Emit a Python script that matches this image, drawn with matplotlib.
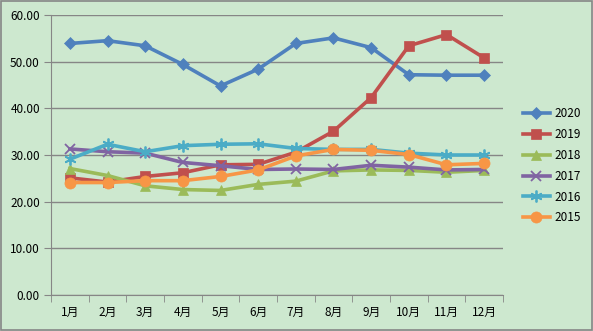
import matplotlib.pyplot as plt
from matplotlib.patches import Rectangle

plt.rcParams['font.family'] = ['Noto Sans CJK SC', 'DejaVu Sans']

months = ['1月', '2月', '3月', '4月', '5月', '6月', '7月', '8月', '9月', '10月', '11月', '12月']
years = ['2020', '2019', '2018', '2017', '2016', '2015']

v2020 = [53.9, 54.5, 53.4, 49.4, 44.8, 48.4, 53.9, 55.1, 53.0, 47.2, 47.1, 47.1]
v2019 = [25.1, 24.2, 25.4, 26.2, 27.9, 28.0, 30.6, 35.1, 42.3, 53.4, 55.8, 50.8]
v2018 = [27.1, 25.6, 23.4, 22.6, 22.4, 23.7, 24.4, 26.6, 26.8, 26.7, 26.3, 26.7]
v2017 = [31.3, 30.7, 30.4, 28.4, 27.7, 26.9, 27.0, 26.9, 27.8, 27.4, 26.8, 26.9]
v2016 = [29.1, 32.3, 30.7, 32.0, 32.3, 32.4, 31.4, 31.2, 31.2, 30.4, 30.0, 30.0]
v2015 = [24.1, 24.1, 24.5, 24.5, 25.4, 26.8, 29.8, 31.2, 31.0, 30.1, 27.9, 28.2]

series = [v2020, v2019, v2018, v2017, v2016, v2015]
colors = ['#4F81BD', '#C0504D', '#9BBB59', '#8064A2', '#4BACC6', '#F79646']
markers = ['D', 's', '^', 'x', (6, 2, 0), 'o']
msizes = [6, 7.5, 7.5, 7.5, 8.5, 8]

bg = '#CDE8CF'
fig = plt.figure(figsize=(5.93, 3.31), dpi=100, facecolor=bg)
ax = fig.add_axes([51 / 593, 36 / 331, 452 / 593, 280 / 331])
ax.set_facecolor(bg)

x = list(range(len(months)))
for name, vals, c, m, ms in zip(years, series, colors, markers, msizes):
    ax.plot(x, vals, color=c, lw=2.6, marker=m, markersize=ms,
            markeredgewidth=1.3 if m in ('x', (6, 2, 0)) else 0.5,
            markeredgecolor=c, markerfacecolor=c, label=name)

ax.set_xlim(-0.5, 11.5)
ax.set_ylim(0, 60)
ax.set_yticks(range(0, 61, 10))
ax.set_yticklabels(['%.2f' % v for v in range(0, 61, 10)], fontsize=8.5)
ax.set_xticks(x)
ax.set_xticklabels(months, fontsize=8.5)
ax.set_xticks([i + 0.5 for i in range(-1, 12)], minor=True)
ax.tick_params(axis='x', which='major', length=0, pad=8)
ax.tick_params(axis='x', which='minor', length=5, color='#868686')
ax.tick_params(axis='y', length=5, color='#868686', pad=3)
ax.grid(axis='y', color='#868686', lw=1)
ax.set_axisbelow(True)
for s in ['top', 'right']:
    ax.spines[s].set_visible(False)
ax.spines['left'].set_color('#868686')
ax.spines['bottom'].set_color('#868686')

leg = ax.legend(loc='upper left', bbox_to_anchor=(1.044, 0.67), frameon=False,
                fontsize=8.5, handlelength=2.3, labelspacing=0.66, borderaxespad=0,
                borderpad=0, handletextpad=0.4)

fig.patches.append(Rectangle((0.001, 0.002), 0.997, 0.995, transform=fig.transFigure,
                             fill=False, edgecolor='#868686', lw=1.2))

fig.savefig('out.png', dpi=100, facecolor=bg)
